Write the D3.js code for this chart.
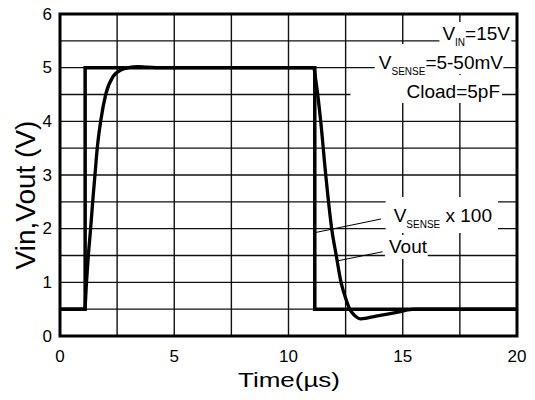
<!DOCTYPE html>
<html>
<head>
<meta charset="utf-8">
<script src="https://cdn.jsdelivr.net/npm/d3@7/dist/d3.min.js"></script>
<style>
  html, body { margin: 0; padding: 0; background: #fff; }
  svg { display: block; font-family: "Liberation Sans", Arial, Helvetica, sans-serif; }
</style>
</head>
<body>
<svg id="chart" width="535" height="400"></svg>
<script>
// ---- data ----
const xTicks = [0, 5, 10, 15, 20];
const yTicks = [0, 1, 2, 3, 4, 5, 6];
const xGrid = [2.5, 5, 7.5, 10, 12.5, 15, 17.5];
const yGrid = [0.5, 1, 1.5, 2, 2.5, 3, 3.5, 4, 4.5, 5, 5.5];

// V_SENSE x 100 (input step), time in µs, volts
const vsenseT = [0, 1.1, 1.1, 11.15, 11.15, 20];
const vsenseV = [0.5, 0.5, 5, 5, 0.5, 0.5];

// Vout response
const voutT = [0, 1.08, 1.16, 1.24, 1.34, 1.43, 1.53, 1.63, 1.78, 2.0, 2.33, 2.69, 3.0, 3.4, 3.8, 4.5,
               11.1, 11.2, 11.41, 11.63, 11.89, 12.09, 12.3, 12.52, 12.68, 12.9, 13.17, 13.83, 14.85, 15.5, 20];
const voutV = [0.5, 0.5, 1.0, 1.5, 2.0, 2.5, 3.0, 3.5, 4.0, 4.5, 4.84, 4.96, 5.0, 5.02, 5.01, 5.0,
               5.0, 4.75, 4.0, 3.0, 2.0, 1.5, 1.0, 0.68, 0.5, 0.38, 0.32, 0.37, 0.45, 0.5, 0.5];

// leader-line anchors (data units): [labelEnd, curvePoint]
const leaderVsense = [[14.05, 2.18], [11.2, 1.93]];
const leaderVout = [[14.12, 1.57], [12.15, 1.40]];

// ---- layout ----
const svg = d3.select("#chart");
const L = 60, R = 517, T = 14, B = 336;
const x = d3.scaleLinear().domain([0, 20]).range([L, R]);
const y = d3.scaleLinear().domain([0, 6]).range([B, T]);

// grid
const g = svg.append("g");
g.selectAll(".vg").data(xGrid).join("line")
  .attr("x1", d => x(d)).attr("x2", d => x(d)).attr("y1", T).attr("y2", B)
  .attr("stroke", "#111").attr("stroke-width", 1.4);
g.selectAll(".hg").data(yGrid).join("line")
  .attr("y1", d => y(d)).attr("y2", d => y(d)).attr("x1", L).attr("x2", R)
  .attr("stroke", "#111").attr("stroke-width", 1.4);

// mask layer for labels (white boxes)
const maskG = svg.append("g");

// border
svg.append("rect").attr("x", L).attr("y", T).attr("width", R - L).attr("height", B - T)
  .attr("fill", "none").attr("stroke", "#000").attr("stroke-width", 3);

// data lines
const vsenseData = vsenseT.map((t, i) => [t, vsenseV[i]]);
const voutData = voutT.map((t, i) => [t, voutV[i]]);
svg.append("path").datum(vsenseData)
  .attr("d", d3.line().x(d => x(d[0])).y(d => y(d[1])))
  .attr("fill", "none").attr("stroke", "#000").attr("stroke-width", 3.5)
  .attr("stroke-linejoin", "miter");
svg.append("path").datum(voutData)
  .attr("d", d3.line().x(d => x(d[0])).y(d => y(d[1])).curve(d3.curveMonotoneX))
  .attr("fill", "none").attr("stroke", "#000").attr("stroke-width", 3.3)
  .attr("stroke-linejoin", "round");

// leaders
[leaderVsense, leaderVout].forEach(ld => {
  svg.append("line")
    .attr("x1", x(ld[0][0])).attr("y1", y(ld[0][1]))
    .attr("x2", x(ld[1][0])).attr("y2", y(ld[1][1]))
    .attr("stroke", "#000").attr("stroke-width", 1);
});

// tick labels
svg.append("g").selectAll("text").data(xTicks).join("text")
  .attr("x", d => x(d)).attr("y", 362).attr("text-anchor", "middle")
  .attr("font-size", 17).text(d => d);
svg.append("g").selectAll("text").data(yTicks).join("text")
  .attr("x", 52).attr("y", d => y(d)).attr("text-anchor", "end")
  .attr("dominant-baseline", "central").attr("font-size", 17).text(d => d);

// axis titles
svg.append("text").attr("x", 289).attr("y", 387).attr("text-anchor", "middle")
  .attr("font-size", 20).attr("textLength", 102).attr("lengthAdjust", "spacingAndGlyphs")
  .text("Time(µs)");
svg.append("text").attr("transform", "translate(35,195) rotate(-90)")
  .attr("text-anchor", "middle").attr("font-size", 28).text("Vin,Vout (V)");

// annotation labels: parts = [text, isSub]
function label(xEnd, yBase, parts, pad) {
  const t = svg.append("text").attr("x", xEnd).attr("y", yBase)
    .attr("text-anchor", "end").attr("font-size", 19);
  let sub = false;
  parts.forEach(p => {
    const ts = t.append("tspan").text(p[0]);
    if (p[1] && !sub) { ts.attr("dy", 6).attr("font-size", 10); sub = true; }
    else if (p[1]) { ts.attr("font-size", 10); }
    else if (!p[1] && sub) { ts.attr("dy", -6); sub = false; }
  });
  const bb = t.node().getBBox();
  maskG.append("rect")
    .attr("x", bb.x - pad[0]).attr("y", bb.y - pad[1])
    .attr("width", bb.width + pad[0] + pad[2]).attr("height", bb.height + pad[1] + pad[3])
    .attr("fill", "#fff");
  return t;
}

label(510, 40, [["V", false], ["IN", true], ["=15V", false]], [3, 1, 1, -2]);
label(503, 69, [["V", false], ["SENSE", true], ["=5-50mV", false]], [4, 8, 0, -3]);
label(500, 98, [["Cload=5pF", false]], [56, 6, 2, 1]);
label(492, 222, [["V", false], ["SENSE", true], [" x 100", false]], [8, 8, 6, 3]);
label(427, 253, [["Vout", false]], [4, 1, 0, 2]);
</script>
</body>
</html>
